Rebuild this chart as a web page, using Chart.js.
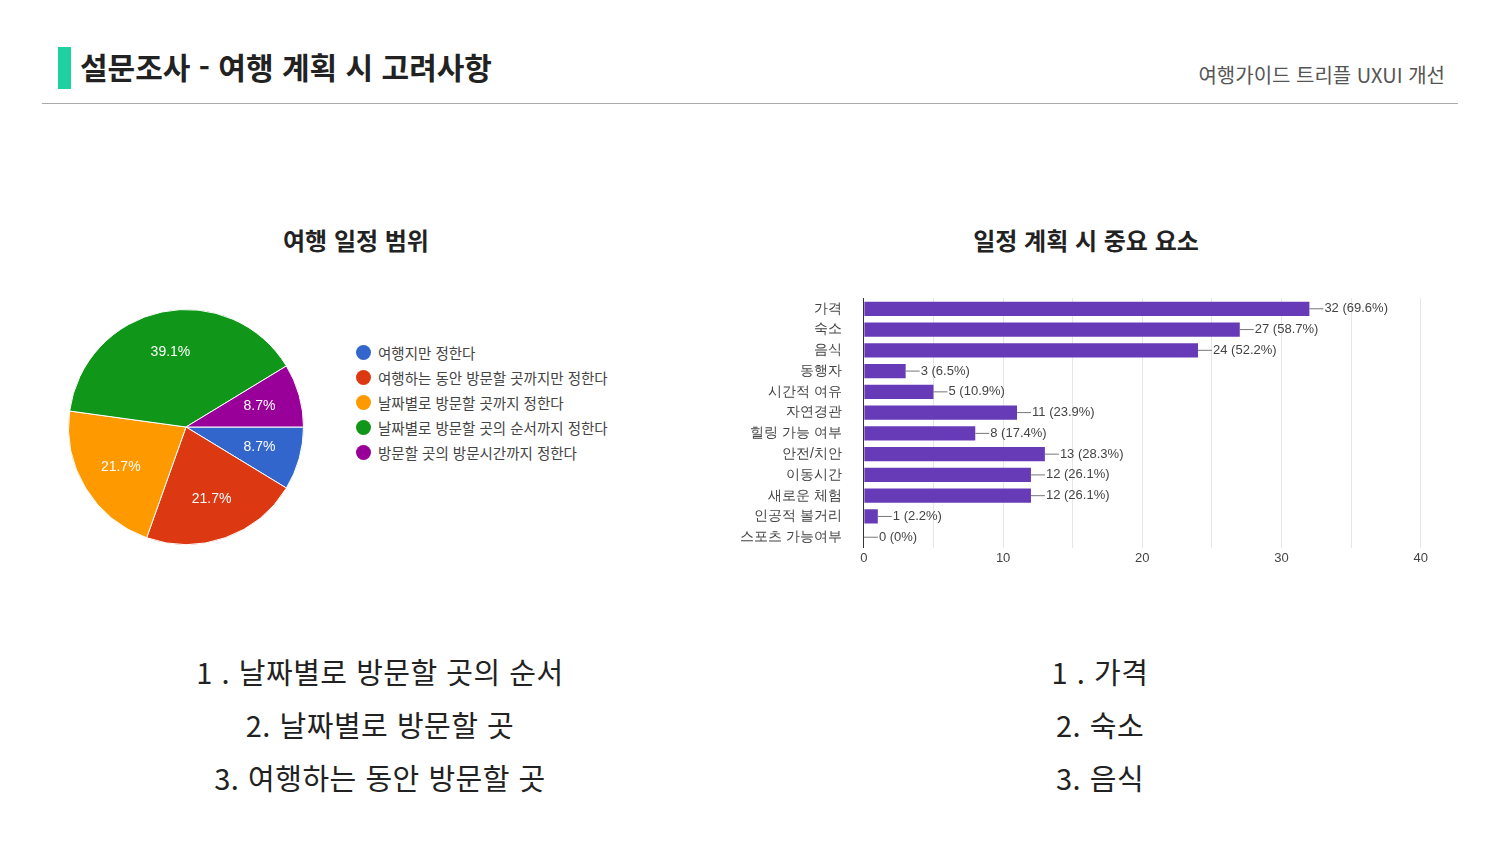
<!DOCTYPE html>
<html lang="ko">
<head>
<meta charset="UTF-8" />
<title>설문조사 - 여행 계획 시 고려사항</title>
<script src="https://cdn.jsdelivr.net/npm/chart.js@4"></script>
<style>
  body { margin: 0; width: 1500px; height: 844px; background: #fff; position: relative; overflow: hidden;
         font-family: "Noto Sans CJK KR", "Noto Sans", sans-serif; color: #222; }
  .bar-mark { position: absolute; left: 58px; top: 47px; width: 13px; height: 42px; background: #1dd1a1; }
  .title { position: absolute; left: 80px; top: 44px; font-size: 30px; font-weight: bold; }
  .sub { position: absolute; right: 55px; top: 60px; font-size: 20px; color: #555; }
  .rule { position: absolute; left: 42px; right: 42px; top: 103px; border-top: 1px solid #aaa; }
  .ctitle { position: absolute; top: 222px; font-size: 24px; font-weight: bold; text-align: center; }
  .box { position: absolute; }
  #legend { position: absolute; left: 356px; top: 343px; width: 262px; font-size: 14.5px; color: #444; }
  #legend div { position: relative; padding-left: 22px; margin-bottom: 5px; line-height: 20px; }
  #legend span { position: absolute; left: 0; top: 2px; width: 15px; height: 15px; border-radius: 50%; }
  .list { position: absolute; top: 645px; font-size: 29px; text-align: center; line-height: 53px; letter-spacing: 0.5px; }
</style>
</head>
<body>
<div class="bar-mark"></div>
<div class="title">설문조사 - 여행 계획 시 고려사항</div>
<div class="sub">여행가이드 트리플 UXUI 개선</div>
<div class="rule"></div>

<div class="ctitle" style="left:156px;width:400px">여행 일정 범위</div>
<div class="ctitle" style="left:886px;width:400px">일정 계획 시 중요 요소</div>

<div class="box" style="left:68px;top:309px;width:236px;height:236px"><canvas id="pie"></canvas></div>
<div id="legend"></div>
<div class="box" style="left:726px;top:276px;width:705px;height:294px"><canvas id="bar"></canvas></div>

<div class="list" style="left:130px;width:500px">1 . 날짜별로 방문할 곳의 순서<br>2. 날짜별로 방문할 곳<br>3. 여행하는 동안 방문할 곳</div>
<div class="list" style="left:900px;width:400px">1 . 가격<br>2. 숙소<br>3. 음식</div>

<script>
  // 여행 일정 범위 (응답 수)
  const pieLabels = ["여행지만 정한다", "여행하는 동안 방문할 곳까지만 정한다", "날짜별로 방문할 곳까지 정한다", "날짜별로 방문할 곳의 순서까지 정한다", "방문할 곳의 방문시간까지 정한다"];
  const pieValues = [4, 10, 10, 18, 4];
  const piePercents = ["8.7%", "21.7%", "21.7%", "39.1%", "8.7%"];
  const pieColors = ["#3366cc", "#dc3912", "#ff9900", "#109618", "#990099"];

  // 일정 계획 시 중요 요소
  const barLabels = ["가격", "숙소", "음식", "동행자", "시간적 여유", "자연경관", "힐링 가능 여부", "안전/치안", "이동시간", "새로운 체험", "인공적 볼거리", "스포츠 가능여부"];
  const barValues = [32, 27, 24, 3, 5, 11, 8, 13, 12, 12, 1, 0];
  const barPercents = ["69.6%", "58.7%", "52.2%", "6.5%", "10.9%", "23.9%", "17.4%", "28.3%", "26.1%", "26.1%", "2.2%", "0%"];

  const legend = document.getElementById("legend");
  pieLabels.forEach((l, i) => {
    legend.innerHTML += `<div><span style="background:${pieColors[i]}"></span>${l}</div>`;
  });

  // 파이 조각 위 퍼센트 표시
  const pieLabelPlugin = {
    id: "pieLabels",
    afterDatasetsDraw(chart) {
      const ctx = chart.ctx;
      ctx.save();
      ctx.fillStyle = "#fff";
      ctx.font = "14px Arial";
      ctx.textAlign = "center";
      ctx.textBaseline = "middle";
      chart.getDatasetMeta(0).data.forEach((arc, i) => {
        const p = arc.tooltipPosition();
        const dx = p.x - arc.x, dy = p.y - arc.y;
        ctx.fillText(piePercents[i], arc.x + dx * 1.3, arc.y + dy * 1.3);
      });
      ctx.restore();
    }
  };

  new Chart(document.getElementById("pie"), {
    type: "pie",
    data: { labels: pieLabels, datasets: [{ data: pieValues, backgroundColor: pieColors, borderColor: "#fff", borderWidth: 1 }] },
    options: {
      responsive: true, maintainAspectRatio: false, animation: false, rotation: 90,
      plugins: { legend: { display: false }, tooltip: { enabled: false } }
    },
    plugins: [pieLabelPlugin]
  });

  // 막대 끝 값 표시
  const barLabelPlugin = {
    id: "barLabels",
    afterDatasetsDraw(chart) {
      const ctx = chart.ctx;
      ctx.save();
      ctx.font = "13px Arial";
      ctx.fillStyle = "#444";
      ctx.strokeStyle = "#777";
      ctx.textBaseline = "middle";
      chart.getDatasetMeta(0).data.forEach((bar, i) => {
        ctx.beginPath();
        ctx.moveTo(bar.x, bar.y);
        ctx.lineTo(bar.x + 14, bar.y);
        ctx.stroke();
        ctx.fillText(barValues[i] + " (" + barPercents[i] + ")", bar.x + 15, bar.y);
      });
      ctx.restore();
    }
  };

  new Chart(document.getElementById("bar"), {
    type: "bar",
    data: { labels: barLabels, datasets: [{ data: barValues, backgroundColor: "#673ab7", barPercentage: 0.72, categoryPercentage: 0.95 }] },
    options: {
      indexAxis: "y", responsive: true, maintainAspectRatio: false, animation: false,
      layout: { padding: { right: 10, top: 4 } },
      plugins: { legend: { display: false }, tooltip: { enabled: false } },
      scales: {
        x: {
          min: 0, max: 40,
          ticks: { stepSize: 5, color: "#444", font: { size: 13, family: "Arial" },
                   callback: v => (v % 10 === 0 ? v : "") },
          grid: { color: "#e6e6e6", drawTicks: false },
          border: { display: false }
        },
        y: {
          ticks: { color: "#444", font: { size: 14 }, padding: 14 },
          grid: { display: false },
          border: { color: "#333" }
        }
      }
    },
    plugins: [barLabelPlugin]
  });
</script>
</body>
</html>
